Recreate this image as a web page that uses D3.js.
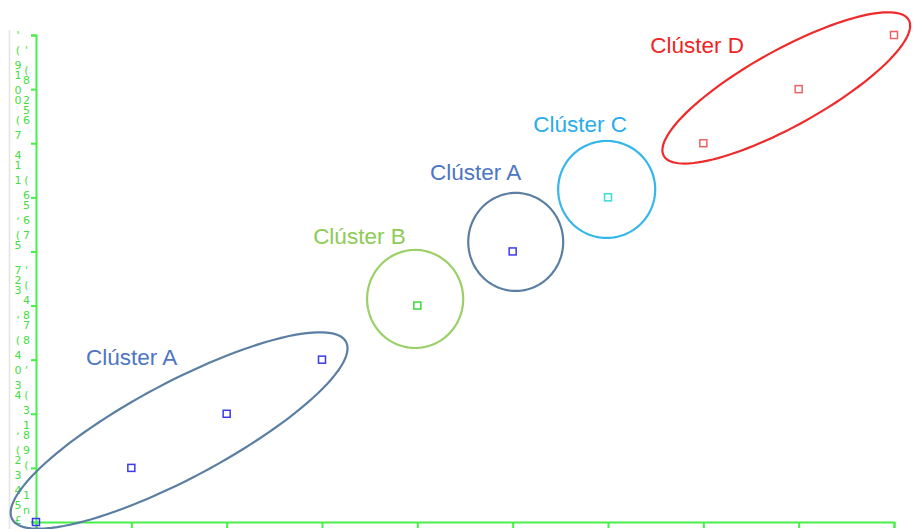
<!DOCTYPE html>
<html><head><meta charset="utf-8">
<script src="https://cdn.jsdelivr.net/npm/d3@7"></script>
<style>html,body{margin:0;padding:0;background:#fff;}svg{display:block;}</style>
</head><body>
<svg id="c" width="913" height="529"></svg>
<script>
// ---- data ----
const xTicks = [0,1,2,3,4,5,6,7,8,9];
const yTicks = [0,1,2,3,4,5,6,7,8,9];
const pointX = [0,1,2,3,4,5,6,7,8,9];
const pointY = [0,1,2,3,4,5,6,7,8,9];
const pointCluster = ["A","A","A","A","B","A2","C","D","D","D"];
const clusterNames = ["A","B","A2","C","D"];
const clusterLabels = ["Clúster A","Clúster B","Clúster A","Clúster C","Clúster D"];
const labelX = [0.525, 2.907, 4.134, 5.215, 6.443];
const labelY = [2.902, 5.139, 6.322, 7.209, 8.669];
// ellipse in data units: centre, and two conjugate half-axis vectors
const ellCx = [1.501, 3.977, 5.032, 5.986, 7.870];
const ellCy = [1.691, 4.122, 5.176, 6.146, 8.022];
const ellU  = [[1.751,1.638],[0.504,0],[0.498,0],[0.509,0],[1.285,1.255]];
const ellV  = [[-0.236,0.783],[0,0.906],[0,0.906],[0,0.896],[-0.193,0.615]];
// garbled vertical y tick text ("." = blank slot)
const yTextCol1 = "'..(..9.1..0.0...(..7...4.1..1......,...(.5....7.2.3.....'...(..4..0..3.4......,...(.2..3..4..5..£";
const yTextCol2 = "...'...(.8...2.5.6...........(..6.5..6..7......'..(..4..8.7..8.....'....(..3..1.8..9..(.....1..n";

// ---- styles ----
const ellColor = {A:"#5b7fa2", B:"#9bd068", A2:"#5b7fa2", C:"#36b7ec", D:"#ee2a2a"};
const txtColor = {A:"#4d75c2", B:"#8dcb55", A2:"#4d75c2", C:"#2aacea", D:"#ee2424"};
const ptColor  = {A:"#3a3aee", B:"#3ad83a", A2:"#3a3aee", C:"#3adcdc", D:"#ee6262"};
const green = "#48ee48";

const svg = d3.select("#c");
const x = d3.scaleLinear().domain([0,9]).range([36,894]);
const y = d3.scaleLinear().domain([0,9]).range([522,35]);

// faint left border
svg.append("line").attr("x1",9.5).attr("x2",9.5).attr("y1",30).attr("y2",529)
  .attr("stroke","#e4e4e4").attr("stroke-width",1.5);

// axes
const gx = svg.append("g").attr("transform",`translate(0,${y(0)})`)
  .call(d3.axisBottom(x).tickValues(xTicks).tickSize(6).tickFormat(""));
const gy = svg.append("g").attr("transform",`translate(${x(0)},0)`)
  .call(d3.axisLeft(y).tickValues(yTicks).tickSize(5).tickFormat(""));
[gx,gy].forEach(g=>{
  g.selectAll("path").attr("stroke",green).attr("stroke-width",2);
  g.selectAll("line").attr("stroke",green).attr("stroke-width",2);
});

// vertical garbled labels
const step = (y(0)-y(9)+1)/97.5;
function col(str, cx){
  const chars = str.split("").map((c,i)=>({c,i})).filter(d=>d.c!==".");
  svg.append("g").selectAll("text").data(chars).join("text")
    .attr("x",cx).attr("y",d=>y(9)+d.i*step+4)
    .attr("text-anchor","middle")
    .attr("font-family","DejaVu Sans, sans-serif").attr("font-size",11)
    .attr("fill","#44dd44").text(d=>d.c);
}
col(yTextCol1, 18);
col(yTextCol2, 26.5);

// ellipses
const line = d3.line();
clusterNames.forEach((k,i)=>{
  const pts = d3.range(0,361,3).map(t=>{
    const a = t*Math.PI/180;
    const dx = ellCx[i] + ellU[i][0]*Math.cos(a) + ellV[i][0]*Math.sin(a);
    const dy = ellCy[i] + ellU[i][1]*Math.cos(a) + ellV[i][1]*Math.sin(a);
    return [x(dx), y(dy)];
  });
  svg.append("path").attr("d", line(pts)+"Z").attr("fill","none")
    .attr("stroke",ellColor[k]).attr("stroke-width",2.2);
});

// points
svg.append("g").selectAll("rect").data(pointX.map((v,i)=>({x:v,y:pointY[i],k:pointCluster[i]}))).join("rect")
  .attr("x",d=>x(d.x)-3.5).attr("y",d=>y(d.y)-3.5).attr("width",7).attr("height",7)
  .attr("fill","none").attr("stroke",d=>ptColor[d.k]).attr("stroke-width",1.5);

// labels
svg.append("g").selectAll("text").data(clusterNames.map((k,i)=>({k,t:clusterLabels[i],x:labelX[i],y:labelY[i]}))).join("text")
  .attr("x",d=>x(d.x)).attr("y",d=>y(d.y))
  .attr("font-family","Liberation Sans, Arial, sans-serif").attr("font-size",22.5)
  .attr("fill",d=>txtColor[d.k]).text(d=>d.t);
</script>
</body></html>
